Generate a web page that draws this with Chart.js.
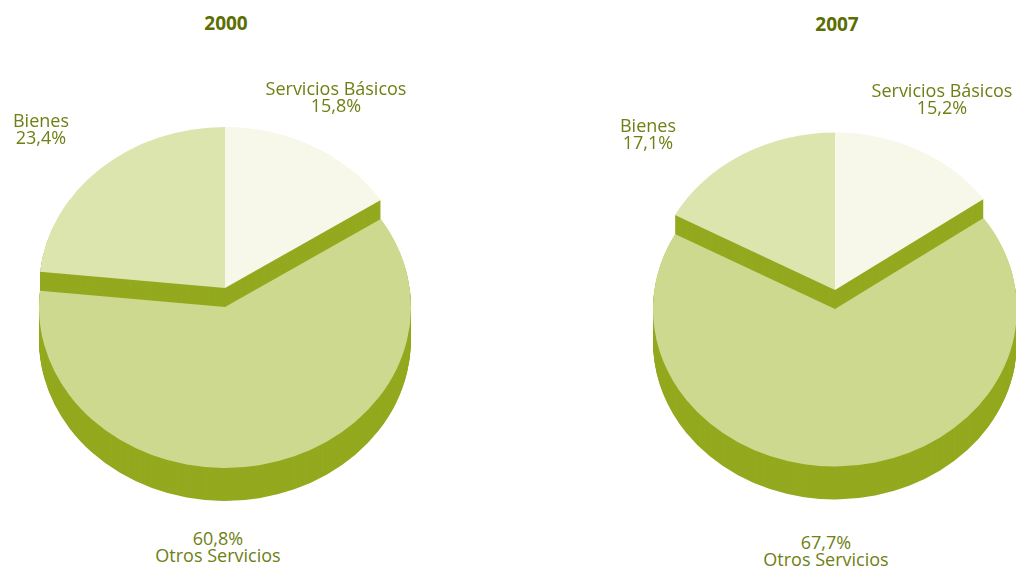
<!DOCTYPE html>
<html>
<head>
<meta charset="utf-8">
<script src="https://cdn.jsdelivr.net/npm/chart.js@4.4.1/dist/chart.umd.min.js"></script>
<style>
  html, body { margin: 0; padding: 0; background: #fff; }
  body { width: 1016px; height: 572px; position: relative; overflow: hidden; font-family: "Open Sans", sans-serif; }
  .box { position: absolute; width: 460px; height: 460px; }
  .lbl { position: absolute; width: 220px; margin-left: -110px; text-align: center; font-size: 18px; line-height: 17px; color: #6e7f14; white-space: nowrap; }
  .ttl { position: absolute; width: 100px; margin-left: -50px; text-align: center; font-size: 19px; line-height: 19px; font-weight: bold; color: #5b6e02; }
</style>
</head>
<body>
<div class="box" id="box0"><canvas id="pie0"></canvas></div>
<div class="box" id="box1"><canvas id="pie1"></canvas></div>
<script>
// datos
const years = ['2000', '2007'];
const categories = ['Servicios Básicos', 'Otros Servicios', 'Bienes'];
const values2000 = [15.8, 60.8, 23.4];
const values2007 = [15.2, 67.7, 17.1];
const seriesValues = [values2000, values2007];

// colores
const sliceColors = ['#f7f8ea', '#cdd98e', '#dde5af'];
const sideColor = '#94a91f';

// posiciones (centro de cada torta, radio, etiquetas)
const layout = [
  { cx: 225, cy: 288, radius: 186, title: [226, 14],
    labels: [[336, 80], [218, 530], [41, 112]] },
  { cx: 835, cy: 290, radius: 182, title: [837, 15],
    labels: [[942, 82], [826, 534], [648, 117]] }
];

function wedge(ctx, a, tilt, dy) {
  ctx.beginPath();
  ctx.moveTo(a.x, a.y + dy);
  ctx.ellipse(a.x, a.y + dy, a.outerRadius, a.outerRadius * tilt, 0, a.startAngle, a.endAngle);
  ctx.closePath();
}

// torta "3D": tapa elíptica + espesor, la porción frontal un poco más abajo
const pie3d = {
  id: 'pie3d',
  beforeDatasetsDraw(chart, args, opts) {
    const ctx = chart.ctx;
    const arcs = chart.getDatasetMeta(0).data;
    const back = arcs.filter((a, i) => i !== opts.front);
    const groups = [[back, 0], [[arcs[opts.front]], opts.drop]];
    ctx.save();
    groups.forEach(([list, dy]) => {
      ctx.fillStyle = opts.sideColor;
      list.forEach(a => {
        for (let d = opts.depth; d > 0; d--) { wedge(ctx, a, opts.tilt, dy + d); ctx.fill(); }
      });
      list.forEach(a => {
        ctx.fillStyle = a.options.backgroundColor;
        wedge(ctx, a, opts.tilt, dy);
        ctx.fill();
      });
    });
    ctx.restore();
    return false;
  }
};

function fmt(v) { return v.toFixed(1).replace('.', ',') + '%'; }

years.forEach((year, k) => {
  const L = layout[k];
  const box = document.getElementById('box' + k);
  box.style.left = (L.cx - 230) + 'px';
  box.style.top = (L.cy - 230) + 'px';

  new Chart(document.getElementById('pie' + k), {
    type: 'pie',
    data: {
      labels: categories,
      datasets: [{
        data: seriesValues[k],
        backgroundColor: sliceColors,
        borderWidth: 0
      }]
    },
    options: {
      responsive: true,
      maintainAspectRatio: false,
      animation: false,
      events: [],
      radius: L.radius,
      layout: { padding: 0 },
      plugins: {
        legend: { display: false },
        tooltip: { enabled: false },
        pie3d: { tilt: 0.865, depth: 33, drop: 19, front: 1, sideColor: sideColor }
      }
    },
    plugins: [pie3d]
  });

  const t = document.createElement('div');
  t.className = 'ttl';
  t.textContent = year;
  t.style.left = L.title[0] + 'px';
  t.style.top = L.title[1] + 'px';
  document.body.appendChild(t);

  categories.forEach((cat, i) => {
    const d = document.createElement('div');
    d.className = 'lbl';
    const val = fmt(seriesValues[k][i]);
    // la porción de abajo lleva el valor primero
    d.innerHTML = i === 1 ? val + '<br>' + cat : cat + '<br>' + val;
    d.style.left = L.labels[i][0] + 'px';
    d.style.top = L.labels[i][1] + 'px';
    document.body.appendChild(d);
  });
});
</script>
</body>
</html>
